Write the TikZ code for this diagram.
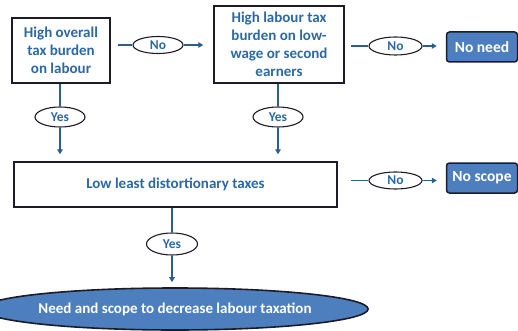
\documentclass[tikz,border=0pt]{standalone}
\usepackage{fontspec}
\setmainfont{Carlito}
\usetikzlibrary{shapes.geometric,arrows.meta}
\definecolor{txtblue}{HTML}{2C68A6}
\definecolor{fillblue}{HTML}{4D7FBE}
\definecolor{lineblue}{HTML}{2A5E90}
\definecolor{edgedark}{HTML}{1C1C28}
\tikzset{
  qbox/.style={draw=edgedark, line width=1.4pt, fill=white, align=center, text=txtblue, font=\bfseries\fontsize{15}{18}\selectfont, inner sep=0pt},
  lbl/.style={ellipse, draw=edgedark, line width=1.1pt, fill=white, text=txtblue, font=\bfseries\fontsize{13.5}{14}\selectfont, inner sep=0pt},
  endbox/.style={rounded corners=3pt, draw=edgedark, line width=1.5pt, fill=fillblue, text=white, font=\bfseries\fontsize{15.5}{17}\selectfont, inner sep=0pt},
  conn/.style={draw=lineblue, line width=1.2pt},
  arr/.style={conn, -{Triangle[length=5pt,width=5.5pt]}}
}
\begin{document}
\begin{tikzpicture}[x=1pt,y=-1pt]
\useasboundingbox (0,0) rectangle (518,331);
% boxes
\node[qbox, minimum width=98pt, minimum height=65pt] (b1) at (61,50.5) {High overall\\tax burden\\on labour};
\node[qbox, minimum width=130pt, minimum height=77pt] (b2) at (279,44.5) {High labour tax\\burden on low-\\wage or second\\earners};
\node[qbox, minimum width=323pt, minimum height=45pt] (b3) at (175.5,184.5) {Low least distortionary taxes};
% labels
\node[lbl, minimum width=50pt, minimum height=17pt] (n1) at (158,45) {No};
\node[lbl, minimum width=53pt, minimum height=18pt] (n2) at (395.5,46) {No};
\node[lbl, minimum width=53pt, minimum height=17pt] (n3) at (395.5,180.5) {No};
\node[lbl, minimum width=50pt, minimum height=20pt] (y1) at (60,117) {Yes};
\node[lbl, minimum width=50pt, minimum height=20pt] (y2) at (278,117) {Yes};
\node[lbl, minimum width=51pt, minimum height=22pt] (y3) at (172,244) {Yes};
% end nodes
\node[endbox, minimum width=71pt, minimum height=30pt] (need) at (482,47) {No need};
\node[endbox, minimum width=71pt, minimum height=30pt] (scope) at (482,178) {No scope};
\node[ellipse, draw=edgedark, line width=1.6pt, fill=fillblue, text=white, font=\bfseries\fontsize{15}{17}\selectfont, minimum width=324pt, minimum height=42pt, inner sep=0pt] (final) at (175,309) {Need and scope to decrease labour taxation};
% connectors
\draw[conn, shorten <=7pt] (b1.east |- n1) -- (n1.west);
\draw[arr, shorten >=10pt] (n1.east) -- (n1.east -| b2.west);
\draw[conn, shorten <=6pt] (b2.east |- n2) -- (n2.west);
\draw[arr, shorten >=9pt] (n2.east) -- (need.west |- n2);
\draw[conn, shorten <=13pt] (b3.east |- n3) -- (n3.west);
\draw[arr, shorten >=9pt] (n3.east) -- (scope.west |- n3);
\draw[conn] (b1.south -| y1) -- (y1.north);
\draw[arr, shorten >=7pt] (y1.south) -- (y1.south |- b3.north);
\draw[conn] (b2.south -| y2) -- (y2.north);
\draw[arr, shorten >=7pt] (y2.south) -- (y2.south |- b3.north);
\draw[conn] (b3.south -| y3) -- (y3.north);
\draw[arr, shorten >=5pt] (y3.south) -- (y3.south |- final.north);
\end{tikzpicture}
\end{document}
